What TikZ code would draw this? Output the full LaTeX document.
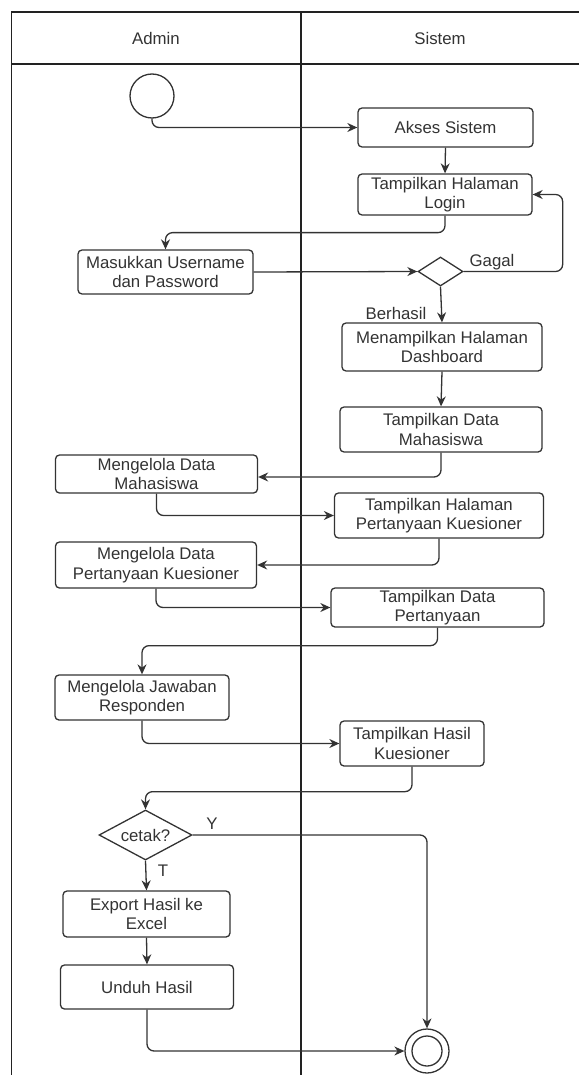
\documentclass[tikz,border=0pt]{standalone}
\usepackage{fontspec}
\setmainfont{Liberation Sans}
\usetikzlibrary{shapes.geometric,arrows.meta}
\definecolor{ink}{HTML}{333333}
\definecolor{laneink}{HTML}{222222}
\begin{document}
\begin{tikzpicture}[x=1pt,y=-1pt,
  every node/.style={font=\fontsize{16.8}{19.5}\selectfont, text=ink},
  lane/.style={draw=laneink, line width=1.3pt},
  act/.style={draw=ink, line width=1.3pt, rounded corners=4pt, align=center, inner sep=0pt},
  cond/.style={diamond, draw=ink, line width=1.3pt, inner sep=0pt, aspect=1.86},
  dot/.style={circle, draw=ink, line width=1.3pt, inner sep=0pt},
  flow/.style={draw=ink, line width=1.3pt, rounded corners=7pt, -{Stealth[length=10pt,width=9pt]}},
  tag/.style={inner sep=1pt}
]
\useasboundingbox (0,0) rectangle (579,1075);

% swimlanes
\draw[lane] (11.5,1075) -- (11.5,12) -- (579,12);
\draw[lane] (11.5,64) -- (579,64);
\draw[lane] (301,12) -- (301,1075);
\node (hadmin) at (156,38) {Admin};
\node (hsistem) at (440,38) {Sistem};

% activities
\node[dot, minimum size=44pt] (start) at (152,96) {};
\node[act, minimum width=175pt, minimum height=39pt] (akses) at (445.5,127.5) {Akses Sistem};
\node[act, minimum width=174pt, minimum height=41pt] (login) at (445,194.5) {Tampilkan Halaman\\Login};
\node[act, minimum width=175pt, minimum height=44pt] (masuk) at (165.5,272) {Masukkan Username\\dan Password};
\node[cond, minimum width=45pt, minimum height=29pt] (dec1) at (440.5,271.5) {};
\node[act, minimum width=200pt, minimum height=48pt] (dash) at (442,347) {Menampilkan Halaman\\Dashboard};
\node[act, minimum width=202pt, minimum height=45pt] (tdm) at (441,429.5) {Tampilkan Data\\Mahasiswa};
\node[act, minimum width=202pt, minimum height=38pt] (mdm) at (156.5,474) {Mengelola Data\\Mahasiswa};
\node[act, minimum width=209pt, minimum height=45pt] (thp) at (439,515.5) {Tampilkan Halaman\\Pertanyaan Kuesioner};
\node[act, minimum width=201pt, minimum height=46pt] (mdp) at (156,565) {Mengelola Data\\Pertanyaan Kuesioner};
\node[act, minimum width=213pt, minimum height=39pt] (tdp) at (437.5,607.5) {Tampilkan Data\\Pertanyaan};
\node[act, minimum width=174pt, minimum height=45pt] (mjr) at (142,697.5) {Mengelola Jawaban\\Responden};
\node[act, minimum width=144pt, minimum height=45pt] (thk) at (412,743.5) {Tampilkan Hasil\\Kuesioner};
\node[cond, minimum width=93pt, minimum height=50pt] (dec2) at (145.5,835) {cetak?};
\node[act, minimum width=167pt, minimum height=46pt] (exp) at (146.5,914) {Export Hasil ke\\Excel};
\node[act, minimum width=173pt, minimum height=44pt] (unduh) at (147,987) {Unduh Hasil};
\node[dot, minimum size=44pt] (end) at (427,1051) {};
\node[dot, minimum size=30pt] (endin) at (end.center) {};

% control flow
\draw[flow] (start.south) |- (akses.west);
\draw[flow] (akses.south) -- (login.north);
\draw[flow] (login.south) -- ++(0,17) -| (masuk.north);
\draw[flow] (masuk.east) -- (dec1.west);
\draw[flow] (dec1.east) -- ++(99,0) |- (login.east);
\node[tag] (gagal) at (492,262) {Gagal};
\draw[flow] (dec1.south) -- (dash.north);
\node[tag] (berhasil) at (396,313) {Berhasil};
\draw[flow] (dash.south) -- (tdm.north);
\draw[flow] (tdm.south) |- ([yshift=-3pt]mdm.east);
\draw[flow] (mdm.south) |- (thp.west);
\draw[flow] (thp.south) |- (mdp.east);
\draw[flow] (mdp.south) |- (tdp.west);
\draw[flow] (tdp.south) -- ++(0,18) -| (mjr.north);
\draw[flow] (mjr.south) |- (thk.west);
\draw[flow] (thk.south) -- ++(0,25) -| (dec2.north);
\draw[flow] (dec2.east) -| (end.north);
\node[tag] (yes) at (212,824) {Y};
\draw[flow] (dec2.south) -- (exp.north);
\node[tag] (no) at (163,871) {T};
\draw[flow] (exp.south) -- (unduh.north);
\draw[flow] (unduh.south) |- (end.west);
\end{tikzpicture}
\end{document}
